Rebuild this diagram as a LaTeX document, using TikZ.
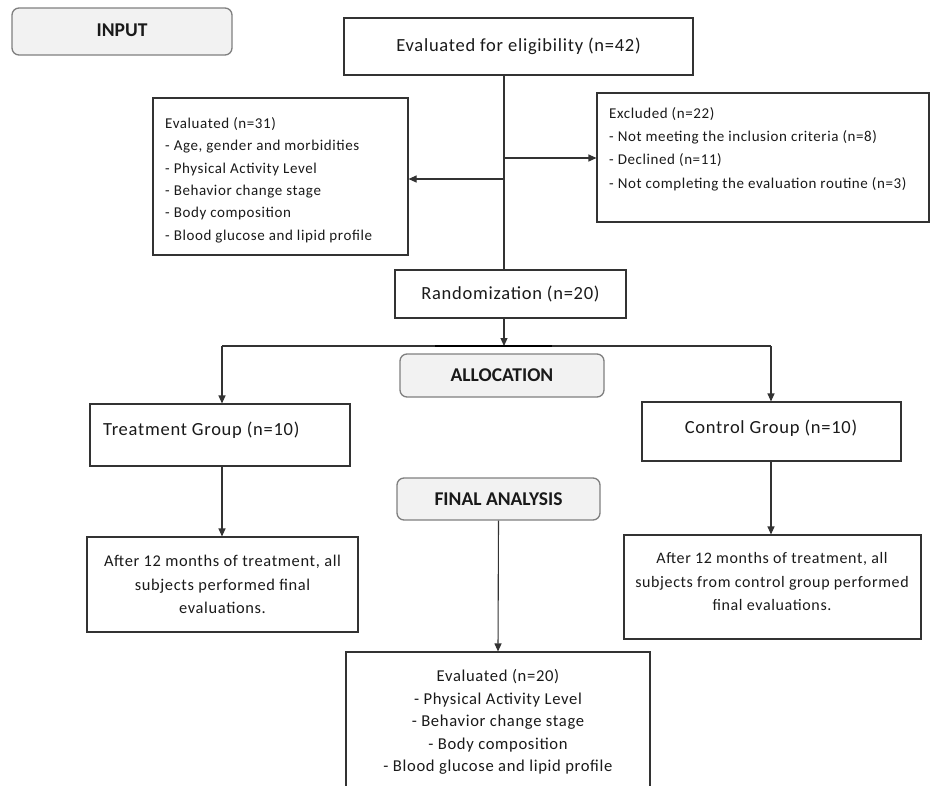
\documentclass[tikz,border=0pt]{standalone}
\usepackage{fontspec}
\setmainfont{Carlito}[LetterSpace=4]
\newfontfamily\plainfont{Carlito}
\usetikzlibrary{arrows.meta}
\definecolor{ln}{HTML}{333333}
\definecolor{tx}{HTML}{1A1A1A}
\definecolor{lblfill}{HTML}{F2F2F2}
\definecolor{lbldraw}{HTML}{7F7F7F}
\tikzset{
  box/.style={draw=ln, line width=1.1pt, fill=white, inner sep=0pt, text=tx},
  lbl/.style={draw=lbldraw, line width=1.3pt, fill=lblfill, rounded corners=7pt,
    inner sep=0pt, text=tx, font={\plainfont\bfseries\fontsize{19.5}{21}\selectfont}},
  txt/.style={inner sep=0pt, text=tx},
  conn/.style={draw=ln, line width=1.1pt},
  arr/.style={conn, -{Triangle[length=8pt,width=7pt]}},
}
\begin{document}
\begin{tikzpicture}[x=1pt,y=-1pt]
\useasboundingbox (0,0) rectangle (935,785);
\clip (0,0) rectangle (935,785);

% label boxes
\node[lbl, minimum width=220pt, minimum height=47pt] (input) at (122,31.5) {\raisebox{2pt}{INPUT}};
\node[lbl, minimum width=204pt, minimum height=43pt] (alloc) at (502,375.5) {ALLOCATION};
\node[lbl, minimum width=203pt, minimum height=42pt] (final) at (498.5,499) {FINAL ANALYSIS};

% main boxes
\node[box, minimum width=349pt, minimum height=57pt, font={\fontsize{18.5}{22}\selectfont}] (elig) at (518.5,46.5) {Evaluated for eligibility (n=42)};
\node[box, minimum width=255pt, minimum height=157pt] (ev31) at (280.5,176.5) {};
\node[txt, anchor=west, align=left, font={\fontsize{15}{22.4}\selectfont}] (ev31t) at (165,180) {Evaluated (n=31)\\- Age, gender and morbidities\\- Physical Activity Level\\- Behavior change stage\\- Body composition\\- Blood glucose and lipid profile};
\node[box, minimum width=332pt, minimum height=129pt] (excl) at (763,157.5) {};
\node[txt, anchor=west, align=left, font={\fontsize{15}{23.3}\selectfont}] (exclt) at (609,149) {Excluded (n=22)\\- Not meeting the inclusion criteria (n=8)\\- Declined (n=11)\\- Not completing the evaluation routine (n=3)};
\node[box, minimum width=231pt, minimum height=48pt, font={\fontsize{18.5}{22}\selectfont}] (rand) at (510.5,294) {Randomization (n=20)};

\node[box, minimum width=260pt, minimum height=62pt] (treat) at (220,435) {};
\node[txt, anchor=west, font={\fontsize{18.5}{22}\selectfont}] (treatt) at (103,430) {Treatment Group (n=10)};
\node[box, minimum width=259pt, minimum height=59pt] (ctrl) at (771.5,431.5) {};
\node[txt, font={\fontsize{18.5}{22}\selectfont}] (ctrlt) at (771,428) {Control Group (n=10)};

\node[box, minimum width=271pt, minimum height=95pt, align=center, font={\fontsize{16.4}{23.5}\selectfont}] (aftT) at (222.5,584.5) {After 12 months of treatment, all\\subjects performed final\\evaluations.};
\node[box, minimum width=297pt, minimum height=104pt] (aftC) at (772.5,587) {};
\node[txt, align=center, font={\fontsize{16}{23.5}\selectfont}] (aftCt) at (772,581.5) {After 12 months of treatment, all\\subjects from control group performed\\final evaluations.};

\node[box, minimum width=304pt, minimum height=140pt, align=center, font={\fontsize{16.6}{22.5}\selectfont}] (ev20) at (498,722) {Evaluated (n=20)\\- Physical Activity Level\\- Behavior change stage\\- Body composition\\- Blood glucose and lipid profile};

% connectors
\coordinate (sp) at (504,0);
\coordinate (j1) at (504,179);
\coordinate (j2) at (504,158);
\coordinate (j3) at (504,346);
\coordinate (bl) at (222,346);
\coordinate (br) at (771,346);
\coordinate (ba) at (435,346);
\coordinate (bb) at (552,346);

\draw[conn] (elig.south -| sp) -- (rand.north -| sp);
\draw[arr] (j1) -- (j1 -| ev31.east);
\draw[arr] (j2) -- (j2 -| excl.west);
\draw[arr] (rand.south -| sp) -- (j3);
\draw[conn] (bl) -- (br);
\draw[draw=black, line width=2.2pt] (ba) -- (bb);
\draw[arr] (bl) -- (bl |- treat.north);
\draw[arr] (br) -- (br |- ctrl.north);
\draw[arr] (treat.south -| bl) -- (aftT.north -| bl);
\draw[arr] (ctrl.south -| br) -- (aftC.north -| br);
\draw[arr] (final.south) -- (ev20.north);
\end{tikzpicture}
\end{document}
